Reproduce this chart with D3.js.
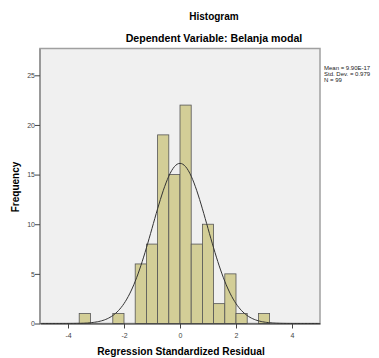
<!DOCTYPE html>
<html><head><meta charset="utf-8">
<script src="https://cdn.jsdelivr.net/npm/d3@7"></script>
<style>body{margin:0;background:#fff}svg{display:block}text{font-family:Arial,"Liberation Sans",sans-serif}</style>
</head><body>
<svg id="c" width="379" height="358"></svg>
<script>
const binStarts = [-3.6, -2.4, -1.6, -1.2, -0.8, -0.4, 0.0, 0.4, 0.8, 1.2, 1.6, 2.0, 2.8];
const counts    = [1, 1, 6, 8, 19, 15, 22, 8, 10, 2, 5, 1, 1];
const binWidth = 0.4;
const mean = 9.90e-17, sd = 0.979, n = 99;
const xTicks = [-4, -2, 0, 2, 4];
const yTicks = [0, 5, 10, 15, 20, 25];
const statLines = ["Mean = 9.90E-17", "Std. Dev. = 0.979", "N = 99"];

const svg = d3.select("#c");
const L = 40, R = 320, T = 48.5, B = 323.5;
const x = d3.scaleLinear().domain([-5, 5]).range([L, R]);
const y = d3.scaleLinear().domain([0, 27.7]).range([B, T]);

svg.append("rect").attr("x", L).attr("y", T).attr("width", R - L).attr("height", B - T)
  .attr("fill", "#f0f0f0").attr("stroke", "#a0a0a0").attr("stroke-width", 1.5);

const bins = binStarts.map((s, i) => ({s, c: counts[i]}));
svg.append("g").selectAll("rect").data(bins).join("rect")
  .attr("x", d => x(d.s)).attr("width", d => x(d.s + binWidth) - x(d.s))
  .attr("y", d => y(d.c)).attr("height", d => y(0) - y(d.c))
  .attr("fill", "#d3ce97").attr("stroke", "#555").attr("stroke-width", 0.8);

const pdf = v => n * binWidth * Math.exp(-0.5 * ((v - mean) / sd) ** 2) / (sd * Math.sqrt(2 * Math.PI));
const xs = d3.range(-5, 5.0001, 0.05);
svg.append("path").datum(xs)
  .attr("d", d3.line().x(v => x(v)).y(v => y(pdf(v))).curve(d3.curveBasis))
  .attr("fill", "none").attr("stroke", "#333").attr("stroke-width", 1);

svg.append("line").attr("x1", L).attr("x2", L).attr("y1", T).attr("y2", B)
  .attr("stroke", "#999").attr("stroke-width", 2);
const xa = svg.append("g").attr("transform", `translate(0,${B})`)
  .call(d3.axisBottom(x).tickValues(xTicks).tickSize(5).tickSizeOuter(0).tickFormat(d3.format("d")));
xa.select(".domain").attr("stroke", "#333").attr("stroke-width", 1.2);
xa.selectAll(".tick line").attr("stroke", "#444");
xa.selectAll("text").attr("font-size", 7).attr("fill", "#444").attr("dy", "0.9em")
  .text(d => d < 0 ? "-" + Math.abs(d) : d);

const ya = svg.append("g").attr("transform", `translate(${L},0)`)
  .call(d3.axisLeft(y).tickValues(yTicks).tickSize(5).tickSizeOuter(0));
ya.select(".domain").remove();
ya.selectAll(".tick line").attr("stroke", "#444");
ya.selectAll("text").attr("font-size", 7).attr("fill", "#444").attr("x", -5);

svg.append("text").attr("x", 214).attr("y", 20).attr("text-anchor", "middle")
  .attr("font-size", 10).attr("font-weight", "bold").text("Histogram");
svg.append("text").attr("x", 214).attr("y", 41.5).attr("text-anchor", "middle")
  .attr("font-size", 10.6).attr("font-weight", "bold").text("Dependent Variable: Belanja modal");
svg.append("text").attr("x", 181).attr("y", 355).attr("text-anchor", "middle")
  .attr("font-size", 10.2).attr("font-weight", "bold").text("Regression Standardized Residual");
svg.append("text").attr("transform", "translate(19,187) rotate(-90)").attr("text-anchor", "middle")
  .attr("font-size", 10).attr("font-weight", "bold").text("Frequency");

svg.append("g").selectAll("text").data(statLines).join("text")
  .attr("x", 324).attr("y", (d, i) => 70 + i * 6.2)
  .attr("font-size", 6).attr("fill", "#222").text(d => d);
</script>
</body></html>
